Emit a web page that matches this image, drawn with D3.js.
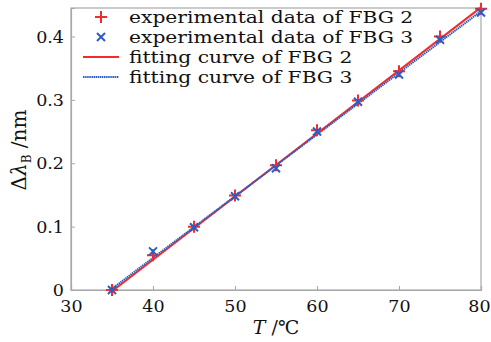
<!DOCTYPE html>
<html><head><meta charset="utf-8">
<script src="https://cdn.jsdelivr.net/npm/d3@7"></script>
<style>body{margin:0;background:#fff}svg{display:block}</style>
</head><body>
<svg id="c" width="491" height="342"></svg>
<script>
const temps = [35, 40, 45, 50, 55, 60, 65, 70, 75, 80];
const fbg2 = [0, 0.055, 0.100, 0.149, 0.197, 0.252, 0.299, 0.345, 0.400, 0.444];
const fbg3 = [0, 0.061, 0.099, 0.148, 0.192, 0.250, 0.297, 0.340, 0.395, 0.438];
const fitT = [35, 80];
const fit2 = [-0.002, 0.446];
const fit3 = [0.002, 0.440];
const xTicks = [30, 40, 50, 60, 70, 80];
const yTicks = [0, 0.1, 0.2, 0.3, 0.4];
const legendLabels = ["experimental data of FBG 2", "experimental data of FBG 3", "fitting curve of FBG 2", "fitting curve of FBG 3"];

const red = "#f52a2a", blue = "#2a5cc4", frame = "#a8a8a8";
const font = "'DejaVu Serif', serif";
const svg = d3.select("#c");
const m = {l: 71, r: 481, t: 8, b: 290};
const x = d3.scaleLinear().domain([30, 80]).range([m.l, m.r]);
const y = d3.scaleLinear().domain([0, 0.445]).range([m.b, m.t]);

svg.append("rect").attr("x", m.l).attr("y", m.t).attr("width", m.r - m.l).attr("height", m.b - m.t)
  .attr("fill", "none").attr("stroke", frame).attr("stroke-width", 1.2);

const xa = svg.append("g").attr("transform", `translate(0,${m.b})`)
  .call(d3.axisBottom(x).tickValues(xTicks).tickSize(-4).tickPadding(10).tickFormat(d3.format("d")));
const ya = svg.append("g").attr("transform", `translate(${m.l},0)`)
  .call(d3.axisLeft(y).tickValues(yTicks).tickSize(-4).tickPadding(7).tickFormat(d => d === 0 ? "0" : d3.format(".1f")(d)));
[xa, ya].forEach(a => {
  a.select(".domain").attr("stroke", frame).attr("stroke-width", 1.2);
  a.selectAll(".tick line").attr("stroke", frame);
  a.selectAll("text").attr("font-family", font).attr("font-size", 17.5).attr("fill", "#111");
});
xa.selectAll("text").attr("dy", "0.71em");
xa.selectAll(".tick:last-of-type text").attr("dx", -2);

const line = d3.line().x(d => x(d[0])).y(d => y(d[1]));
svg.append("path").datum(fitT.map((t, i) => [t, fit2[i]])).attr("d", line)
  .attr("fill", "none").attr("stroke", red).attr("stroke-width", 2);
svg.append("path").datum(fitT.map((t, i) => [t, fit3[i]])).attr("d", line)
  .attr("fill", "none").attr("stroke", blue).attr("stroke-width", 2).attr("stroke-dasharray", "1.5,0.6");

function plusPath(s) { return `M${-s},0H${s}M0,${-s}V${s}`; }
function crossPath(s) { return `M${-s},${-s}L${s},${s}M${-s},${s}L${s},${-s}`; }
svg.append("g").selectAll("path").data(temps).join("path")
  .attr("transform", (d, i) => `translate(${x(d)},${y(fbg2[i])})`)
  .attr("d", plusPath(6)).attr("stroke", red).attr("stroke-width", 2).attr("fill", "none");
svg.append("g").selectAll("path").data(temps).join("path")
  .attr("transform", (d, i) => `translate(${x(d)},${y(fbg3[i])})`)
  .attr("d", crossPath(4)).attr("stroke", blue).attr("stroke-width", 2).attr("fill", "none");

const lg = svg.append("g");
const rowY = [17, 37, 57, 77];
legendLabels.forEach((lab, i) => {
  const ry = rowY[i];
  if (i === 0) lg.append("path").attr("transform", `translate(101,${ry})`).attr("d", plusPath(6))
    .attr("stroke", red).attr("stroke-width", 2).attr("fill", "none");
  if (i === 1) lg.append("path").attr("transform", `translate(101,${ry})`).attr("d", crossPath(4))
    .attr("stroke", blue).attr("stroke-width", 2).attr("fill", "none");
  if (i === 2) lg.append("line").attr("x1", 83).attr("x2", 119).attr("y1", ry).attr("y2", ry)
    .attr("stroke", red).attr("stroke-width", 2);
  if (i === 3) lg.append("line").attr("x1", 83).attr("x2", 119).attr("y1", ry).attr("y2", ry)
    .attr("stroke", blue).attr("stroke-width", 2).attr("stroke-dasharray", "1.5,0.6");
  const t = lg.append("text").attr("x", 129).attr("y", ry).attr("dy", "0.35em")
    .attr("font-family", font).attr("font-size", 17).attr("fill", "#111").text(lab);
  const w = t.node().getComputedTextLength();
  t.attr("textLength", w * 1.19).attr("lengthAdjust", "spacingAndGlyphs");
});

const xt = svg.append("text").attr("x", 276).attr("y", 334).attr("text-anchor", "middle")
  .attr("font-family", font).attr("font-size", 19).attr("fill", "#111");
xt.append("tspan").attr("font-style", "italic").text("T");
xt.append("tspan").text(" /℃");

const yt = svg.append("text").attr("transform", "translate(26,150) rotate(-90)").attr("text-anchor", "middle")
  .attr("font-family", font).attr("font-size", 20).attr("fill", "#111");
yt.append("tspan").text("Δ");
yt.append("tspan").attr("font-style", "italic").text("λ");
yt.append("tspan").attr("font-size", 12).attr("dy", 5).text("B");
yt.append("tspan").attr("dy", -5).text(" /nm");
</script>
</body></html>
